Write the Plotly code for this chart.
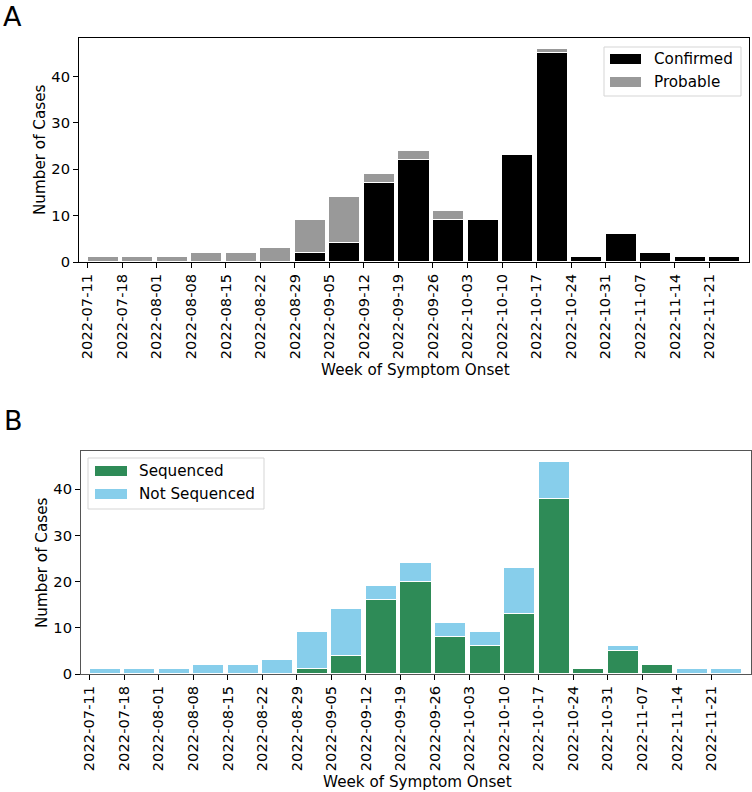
import plotly.graph_objects as go

weeks = ["2022-07-11", "2022-07-18", "2022-08-01", "2022-08-08", "2022-08-15",
         "2022-08-22", "2022-08-29", "2022-09-05", "2022-09-12", "2022-09-19",
         "2022-09-26", "2022-10-03", "2022-10-10", "2022-10-17", "2022-10-24",
         "2022-10-31", "2022-11-07", "2022-11-14", "2022-11-21"]
confirmed = [0, 0, 0, 0, 0, 0, 2, 4, 17, 22, 9, 9, 23, 45, 1, 6, 2, 1, 1]
probable = [1, 1, 1, 2, 2, 3, 7, 10, 2, 2, 2, 0, 0, 1, 0, 0, 0, 0, 0]
sequenced = [0, 0, 0, 0, 0, 0, 1, 4, 16, 20, 8, 6, 13, 38, 1, 5, 2, 0, 0]
not_sequenced = [1, 1, 1, 2, 2, 3, 8, 10, 3, 4, 3, 3, 10, 8, 0, 1, 0, 1, 1]

idx = list(range(len(weeks)))
W, H = 752, 792
FONT = "DejaVu Sans"
FS = 15.2
TFS = 14.7

fig = go.Figure()

def add_bars(vals, color, xa, ya, name):
    fig.add_trace(go.Bar(
        x=idx, y=vals, name=name, xaxis=xa, yaxis=ya,
        width=0.9, offset=0,
        marker=dict(color=color, line=dict(color="white", width=1)),
        showlegend=False,
    ))

add_bars(confirmed, "#000000", "x", "y", "Confirmed")
add_bars(probable, "#999999", "x", "y", "Probable")
add_bars(sequenced, "#2e8b57", "x2", "y2", "Sequenced")
add_bars(not_sequenced, "#87ceeb", "x2", "y2", "Not Sequenced")

def px_x(p):
    return p / W

def px_y(p):
    return 1 - p / H

def axis_common(frame_color):
    return dict(showline=True, linecolor=frame_color, linewidth=1, mirror=True,
                ticks="outside", ticklen=5, tickcolor="black", tickwidth=1,
                showgrid=False, zeroline=False, automargin=False,
                tickfont=dict(family=FONT, size=TFS, color="black"))

xa = axis_common("black")
xa.update(domain=[px_x(79), px_x(749)], range=[-0.25, 19.15], anchor="y",
          tickvals=idx, ticktext=weeks, tickangle=-90)
ya = axis_common("black")
ya.update(domain=[px_y(262), px_y(38)], range=[0, 48.3], anchor="x",
          tickvals=[0, 10, 20, 30, 40])
xb = axis_common("#555555")
xb.update(domain=[px_x(81), px_x(751)], range=[-0.25, 19.15], anchor="y2",
          tickvals=idx, ticktext=weeks, tickangle=-90)
yb = axis_common("#555555")
yb.update(domain=[px_y(674), px_y(451)], range=[0, 48.3], anchor="x2",
          tickvals=[0, 10, 20, 30, 40])

shapes = []
annotations = []

def text(t, x, y, size=FS, angle=0, xanchor="center", yanchor="middle"):
    annotations.append(dict(text=t, xref="paper", yref="paper", x=px_x(x), y=px_y(y),
                            xanchor=xanchor, yanchor=yanchor, showarrow=False, textangle=angle,
                            font=dict(family=FONT, size=size, color="black")))

def legend(box, entries):
    x0, y0, x1, y1 = box
    shapes.append(dict(type="rect", xref="paper", yref="paper",
                       x0=px_x(x0), x1=px_x(x1), y0=px_y(y1), y1=px_y(y0),
                       line=dict(color="#d5d5d5", width=1), fillcolor="rgba(255,255,255,0.8)"))
    for (sx0, sx1, cy, tx, color, label) in entries:
        shapes.append(dict(type="rect", xref="paper", yref="paper",
                           x0=px_x(sx0), x1=px_x(sx1), y0=px_y(cy + 5), y1=px_y(cy - 5),
                           line=dict(width=0), fillcolor=color))
        text(label, tx, cy, xanchor="left")

legend((604, 47, 741, 96), [
    (610, 641, 59, 652, "#000000", "Confirmed"),
    (610, 641, 82, 652, "#999999", "Probable"),
])
legend((88, 458, 264, 509), [
    (95, 127, 471, 137, "#2e8b57", "Sequenced"),
    (95, 127, 494, 137, "#87ceeb", "Not Sequenced"),
])

# axis titles
text("Number of Cases", 40, 150, angle=-90)
text("Week of Symptom Onset", 415, 370)
text("Number of Cases", 42, 563, angle=-90)
text("Week of Symptom Onset", 417, 782)

# panel letters
text("A", 1, 16, size=27, xanchor="left")
text("B", 2, 420, size=27, xanchor="left")

fig.update_layout(
    width=W, height=H, margin=dict(l=0, r=0, t=0, b=0),
    paper_bgcolor="white", plot_bgcolor="white",
    barmode="stack", bargap=0,
    xaxis=xa, yaxis=ya, xaxis2=xb, yaxis2=yb,
    shapes=shapes, annotations=annotations,
    font=dict(family=FONT, color="black"),
    showlegend=False,
)

fig.write_html("out.html", config={"displayModeBar": False},
               post_script="document.body.style.margin='0';document.body.style.overflow='hidden';")
